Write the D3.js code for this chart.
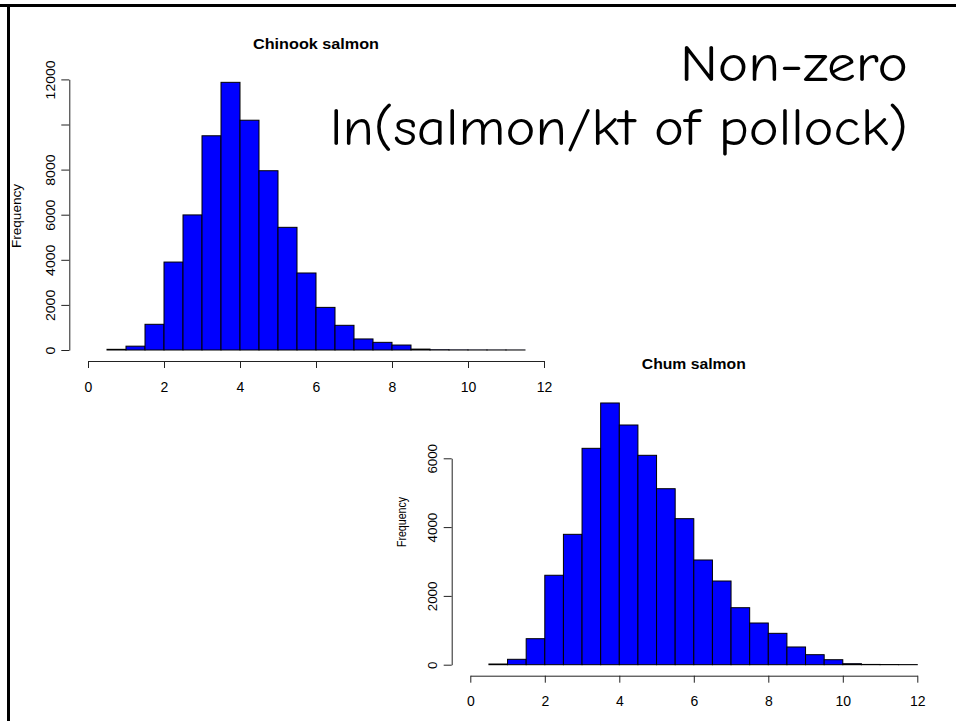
<!DOCTYPE html>
<html>
<head>
<meta charset="utf-8">
<script src="https://cdn.jsdelivr.net/npm/d3@7"></script>
<style>
  html, body { margin: 0; padding: 0; background: #fff; }
  svg { display: block; }
  text { font-family: "Liberation Sans", Arial, Helvetica, sans-serif; fill: #000; }
</style>
</head>
<body>
<script>
// ---- Data ----
const binWidth = 0.5;
const chinookStart = 0.5;
const chinookCounts = [30, 170, 1140, 3900, 5990, 9500, 11870, 10190, 7950, 5440, 3415,
                       1890, 1095, 490, 340, 220, 40, 12, 6, 4, 3, 2];
const chumStart = 0.5;
const chumCounts = [20, 157, 756, 2600, 3790, 6290, 7608, 6968, 6087, 5116, 4245, 3044,
                    2433, 1657, 1212, 912, 515, 291, 145, 29, 8, 5, 3];
const xTicks = [0, 2, 4, 6, 8, 10, 12];
const chinookYTicks = [0, 2000, 4000, 6000, 8000, 10000, 12000];
const chinookYLabels = ["0", "2000", "4000", "6000", "8000", "", "12000"];
const chumYTicks = [0, 2000, 4000, 6000];
const chumYLabels = ["0", "2000", "4000", "6000"];
const titleLine1 = "Non-zero";
const titleLine2 = "ln(salmon/kt of pollock)";
const chinookTitle = "Chinook salmon";
const chumTitle = "Chum salmon";
const yLabel = "Frequency";

const W = 956, H = 721;
const svg = d3.select("body").append("svg").attr("width", W).attr("height", H);

// frame lines (slide border)
svg.append("line").attr("x1", 0).attr("x2", W).attr("y1", 5.5).attr("y2", 5.5)
  .attr("stroke", "#000").attr("stroke-width", 3);
svg.append("line").attr("x1", 8.5).attr("x2", 8.5).attr("y1", 4).attr("y2", H)
  .attr("stroke", "#000").attr("stroke-width", 3);

function histogram(cfg) {
  const x = d3.scaleLinear().domain([0, 12]).range(cfg.xRange);
  const y = d3.scaleLinear().domain([0, cfg.yMax]).range(cfg.yRange);
  const bins = cfg.counts.map((c, i) => ({ x0: cfg.start + i * binWidth, x1: cfg.start + (i + 1) * binWidth, c }));
  const g = svg.append("g");

  g.selectAll("rect.bar").data(bins).enter().append("rect")
    .attr("class", "bar")
    .attr("x", d => x(d.x0))
    .attr("width", d => x(d.x1) - x(d.x0))
    .attr("y", d => y(d.c))
    .attr("height", d => y(0) - y(d.c))
    .attr("fill", "#0000FF")
    .attr("stroke", "#000")
    .attr("stroke-width", 1);

  // x axis
  const xa = g.append("g").attr("transform", `translate(0,${cfg.xAxisY})`)
    .call(d3.axisBottom(x).tickValues(xTicks).tickSize(7).tickSizeOuter(0).tickFormat(d3.format("d")));
  xa.select(".domain").attr("stroke", "#222");
  xa.selectAll(".tick line").attr("stroke", "#222");
  xa.selectAll(".tick text").attr("y", cfg.xLabelDy).attr("dy", 0)
    .style("font-size", cfg.xFont + "px");

  // y axis
  const ya = g.append("g").attr("transform", `translate(${cfg.yAxisX},0)`)
    .call(d3.axisLeft(y).tickValues(cfg.yTicks).tickSize(8).tickSizeOuter(0)
      .tickFormat((d, i) => cfg.yLabels[i]));
  ya.select(".domain").attr("stroke", "#222");
  ya.selectAll(".tick line").attr("stroke", "#222");
  ya.selectAll(".tick text")
    .attr("x", null).attr("dy", null)
    .attr("transform", `translate(${cfg.yLabelDx},0) rotate(-90)`)
    .attr("text-anchor", "middle")
    .style("font-size", cfg.yFont + "px")
    .each(function (d, i) {
      const s = cfg.yLabels[i];
      if (s.length) d3.select(this).attr("textLength", s.length * cfg.digitLen).attr("lengthAdjust", "spacingAndGlyphs");
    });

  // title
  g.append("text").attr("x", (cfg.xRange[0] + cfg.xRange[1]) / 2).attr("y", cfg.titleY)
    .attr("text-anchor", "middle").style("font-weight", "bold").style("font-size", cfg.titleFont + "px")
    .attr("textLength", cfg.titleLen).attr("lengthAdjust", "spacingAndGlyphs")
    .text(cfg.title);

  // y label
  g.append("text").attr("transform", `translate(${cfg.ylabX},${cfg.ylabY}) rotate(-90)`)
    .attr("text-anchor", "middle").style("font-size", cfg.ylabFont + "px")
    .attr("textLength", cfg.ylabLen).attr("lengthAdjust", "spacingAndGlyphs")
    .text(yLabel);
}

histogram({
  counts: chinookCounts, start: chinookStart, yMax: 12000,
  xRange: [88, 544], yRange: [350, 79.4],
  xAxisY: 361, xLabelDy: 31, xFont: 14,
  yAxisX: 69.3, yTicks: chinookYTicks, yLabels: chinookYLabels, yLabelDx: -14, yFont: 12, digitLen: 7.8,
  title: chinookTitle, titleY: 49, titleFont: 15, titleLen: 126,
  ylabX: 21, ylabY: 216, ylabFont: 12, ylabLen: 64
});

histogram({
  counts: chumCounts, start: chumStart, yMax: 6000,
  xRange: [470.3, 917.3], yRange: [664.7, 458.3],
  xAxisY: 675.7, xLabelDy: 30, xFont: 14,
  yAxisX: 451.7, yTicks: chumYTicks, yLabels: chumYLabels, yLabelDx: -15, yFont: 13, digitLen: 7.4,
  title: chumTitle, titleY: 369, titleFont: 15, titleLen: 104,
  ylabX: 406, ylabY: 522, ylabFont: 12, ylabLen: 50
});

// big slide title
const bigFont = '"Comic Sans MS", "Comic Neue", "DejaVu Sans", sans-serif';
svg.append("text").attr("x", 680).attr("y", 81)
  .style("font-family", bigFont).style("font-size", "52px")
  .attr("textLength", 228).attr("lengthAdjust", "spacingAndGlyphs")
  .text(titleLine1);
svg.append("text").attr("x", 330).attr("y", 145)
  .style("font-family", bigFont).style("font-size", "52px")
  .attr("textLength", 578).attr("lengthAdjust", "spacingAndGlyphs")
  .text(titleLine2);
</script>
</body>
</html>
